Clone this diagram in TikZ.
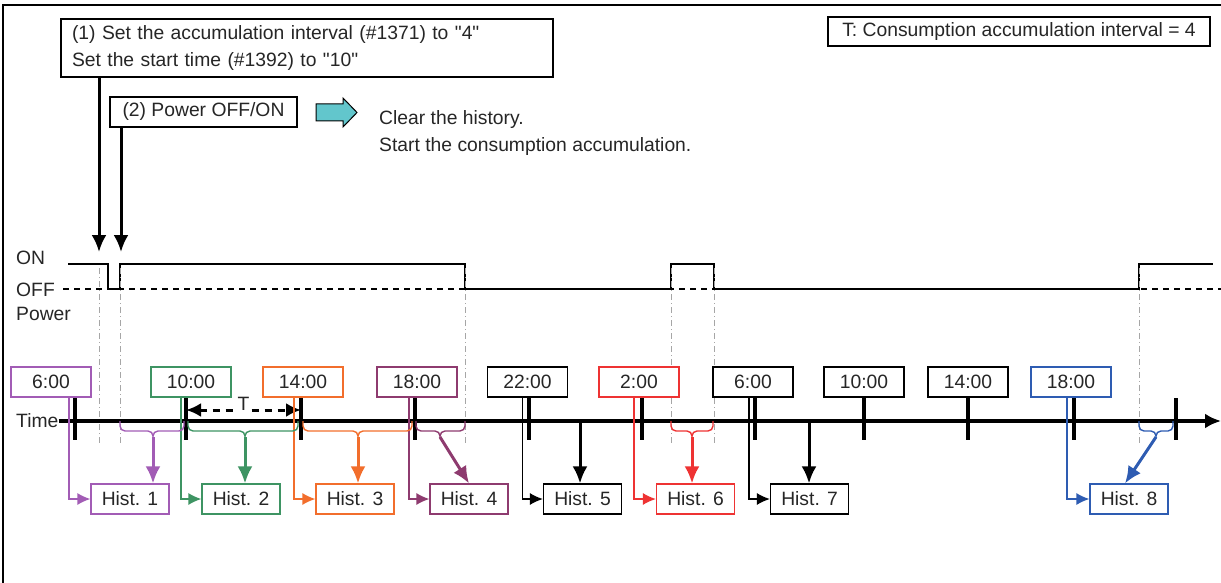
\documentclass[tikz,border=0pt]{standalone}
\usepackage{fontspec}
\setmainfont{Liberation Sans}[Ligatures=TeXOff]
\usetikzlibrary{arrows.meta,positioning,calc}
\definecolor{hpurple}{HTML}{A25CB5}
\definecolor{hgreen}{HTML}{3E9463}
\definecolor{horange}{HTML}{F26E2C}
\definecolor{hplum}{HTML}{8E3B6F}
\definecolor{hred}{HTML}{EE3333}
\definecolor{hblue}{HTML}{2E5CB2}
\definecolor{hcyan}{HTML}{62C6CC}
\definecolor{guidegray}{HTML}{A6A6A6}

\begin{document}
\begin{tikzpicture}[x=1pt, y=-1pt,
      every node/.style={font=\fontsize{19.3}{23}\selectfont, text=black!85},
      note/.style={draw, line width=1.3pt, fill=white, inner sep=0pt},
      tbox/.style={draw, line width=1.2pt, fill=white, minimum width=80pt, minimum height=30pt, inner sep=0pt},
      hbox/.style={draw, line width=1.2pt, fill=white, minimum width=78pt, minimum height=30pt, inner sep=0pt},
      conn/.style={line width=1.4pt, -{Latex[length=13pt, width=12pt]}},
      push/.style={line width=3pt, -{Latex[length=17pt, width=15pt]}},
      brace/.style={line width=1.4pt, rounded corners=5pt},
      guide/.style={guidegray, line width=0.8pt, dash pattern=on 6pt off 3pt on 1pt off 3pt},
      tick/.style={line width=3.2pt}
    ]
    \useasboundingbox (0,0) rectangle (1221,583);
    \draw[line width=1.5pt] (3,583) -- (3,5) -- (1221,5);

    % settings and legend
    \node[note, minimum width=492pt, minimum height=58pt, text width=470pt, align=left, inner xsep=11pt] (s1) at (307,48)
      {(1) Set the accumulation interval (\#1371) to "4"\\[4pt]Set the start time (\#1392) to "10"};
    \node[note, minimum width=187pt, minimum height=30pt] (s2) at (203.5,112) {(2) Power OFF/ON};
    \node[note, minimum width=382pt, minimum height=29pt] (sT) at (1019,31.5) {T: Consumption accumulation interval = 4};
    \draw[line width=1pt, fill=hcyan] (316,104) -- (343,104) -- (343,98) -- (357,112.5) -- (343,127) -- (343,121) -- (316,121) -- cycle;
    \node[anchor=west, inner sep=0pt] (clr) at (379,120) {Clear the history.};
    \node[anchor=west, inner sep=0pt] (acc) at (379,147) {Start the consumption accumulation.};
    \coordinate (p1) at (99,252); \coordinate (p2) at (121,252);
    \draw[push] (p1 |- s1.south) -- (p1); \draw[push] (p2 |- s2.south) -- (p2);

    % power signal
    \node[anchor=west, inner sep=0pt] (on) at (16,258) {ON};
    \node[anchor=west, inner sep=0pt] (off) at (16,290) {OFF};
    \node[anchor=west, inner sep=0pt] (pwr) at (16,314) {Power};
    \draw[line width=1.8pt, dash pattern=on 6pt off 5pt] (63,289) -- (1221,289);
    \draw[line width=1.8pt] (68,264) -- (108,264) -- (108,289) -- (120,289) -- (120,264) -- (465,264) -- (465,289)
      -- (671,289) -- (671,264) -- (714,264) -- (714,289) -- (1139,289) -- (1139,264) -- (1213,264);
    \foreach \gx in {99,120,465,671,714,1139} \draw[guide] (\gx,268) -- (\gx,445);

    % time axis
    \node[anchor=west, inner sep=0pt] (time) at (16,421) {Time};
    \coordinate (tend) at (1221,421);
    \draw[line width=3.4pt, -{Latex[length=16pt, width=15pt]}] (time.east) -- (tend);
    \foreach \k/\kx in {1/75,2/186,3/301,4/415,5/529,6/642,7/755,8/864,9/968,10/1074,11/1176} {
      \coordinate (k\k) at (\kx,421);
      \draw[tick] (\kx,398) -- (\kx,440);
    }

    \node[tbox, draw=hpurple] (t1) at (51,382) {6:00};
    \node[tbox, draw=hgreen] (t2) at (191,382) {10:00};
    \node[tbox, draw=horange] (t3) at (303,382) {14:00};
    \node[tbox, draw=hplum] (t4) at (417,382) {18:00};
    \node[tbox] (t5) at (527.5,382) {22:00};
    \node[tbox, draw=hred] (t6) at (639,382) {2:00};
    \node[tbox] (t7) at (753,382) {6:00};
    \node[tbox] (t8) at (864,382) {10:00};
    \node[tbox] (t9) at (968,382) {14:00};
    \node[tbox, draw=hblue] (t10) at (1071,382) {18:00};

    \draw[line width=3pt, dash pattern=on 7pt off 6pt, {Latex[length=15pt, width=14pt]}-{Latex[length=15pt, width=14pt]}]
      ([yshift=11pt]k2) -- ([yshift=11pt]k3) node[midway, yshift=6pt, fill=white, inner sep=2pt] (tlab) {T};

    % histories
    \node[hbox, draw=hpurple] (h1) at (130,499) {Hist. 1};
    \node[hbox, draw=hgreen] (h2) at (241,499) {Hist. 2};
    \node[hbox, draw=horange] (h3) at (355,499) {Hist. 3};
    \node[hbox, draw=hplum] (h4) at (469,499) {Hist. 4};
    \node[hbox] (h5) at (582.5,499) {Hist. 5};
    \node[hbox, draw=hred] (h6) at (695.5,499) {Hist. 6};
    \node[hbox] (h7) at (809.5,499) {Hist. 7};
    \node[hbox, draw=hblue] (h8) at (1129,499) {Hist. 8};

    \draw[conn, hpurple] ([xshift=18pt]t1.south) |- (h1);
    \draw[conn, hgreen] ([xshift=-10pt]t2.south) |- (h2);
    \draw[conn, horange] ([xshift=-9pt]t3.south) |- (h3);
    \draw[conn, hplum] ([xshift=-8pt]t4.south) |- (h4);
    \draw[conn] ([xshift=-5pt]t5.south) |- (h5);
    \draw[conn, hred] ([xshift=-5pt]t6.south) |- (h6);
    \draw[conn] ([xshift=-4pt]t7.south) |- (h7);
    \draw[conn, hblue] ([xshift=-4pt]t10.south) |- (h8);

    \draw[brace, hpurple] (120,421) |- (153,431) -- (153,438) (184,421) |- (153,431) -- (153,438);
    \draw[brace, hgreen] (188,421) |- (245,431) -- (245,438) (298,421) |- (245,431) -- (245,438);
    \draw[brace, horange] (303,421) |- (358,431) -- (358,438) (412,421) |- (358,431) -- (358,438);
    \draw[brace, hplum] (416,421) |- (440,431) -- (440,438) (465,421) |- (440,431) -- (440,438);
    \draw[brace, hred] (671,421) |- (692,431) -- (692,438) (713,421) |- (692,431) -- (692,438);
    \draw[brace, hblue] (1139,421) |- (1156,431) -- (1156,438) (1173,421) |- (1156,431) -- (1156,438);
    \coordinate (b1) at (153,437); \coordinate (b2) at (245,437); \coordinate (b3) at (358,437);
    \coordinate (b4) at (440,437); \coordinate (b5) at (580,421); \coordinate (b6) at (692,437);
    \coordinate (b7) at (809,421); \coordinate (b8) at (1156,437);
    \draw[push, hpurple] (b1) -- (b1 |- h1.north); \draw[push, hgreen] (b2) -- (b2 |- h2.north);
    \draw[push, horange] (b3) -- (b3 |- h3.north); \draw[push, hplum] (b4) -- (h4.north);
    \draw[push] (b5) -- (b5 |- h5.north); \draw[push, hred] (b6) -- (b6 |- h6.north);
    \draw[push] (b7) -- (b7 |- h7.north); \draw[push, hblue] (b8) -- ([xshift=-4pt]h8.north);
  \end{tikzpicture}
\end{document}
